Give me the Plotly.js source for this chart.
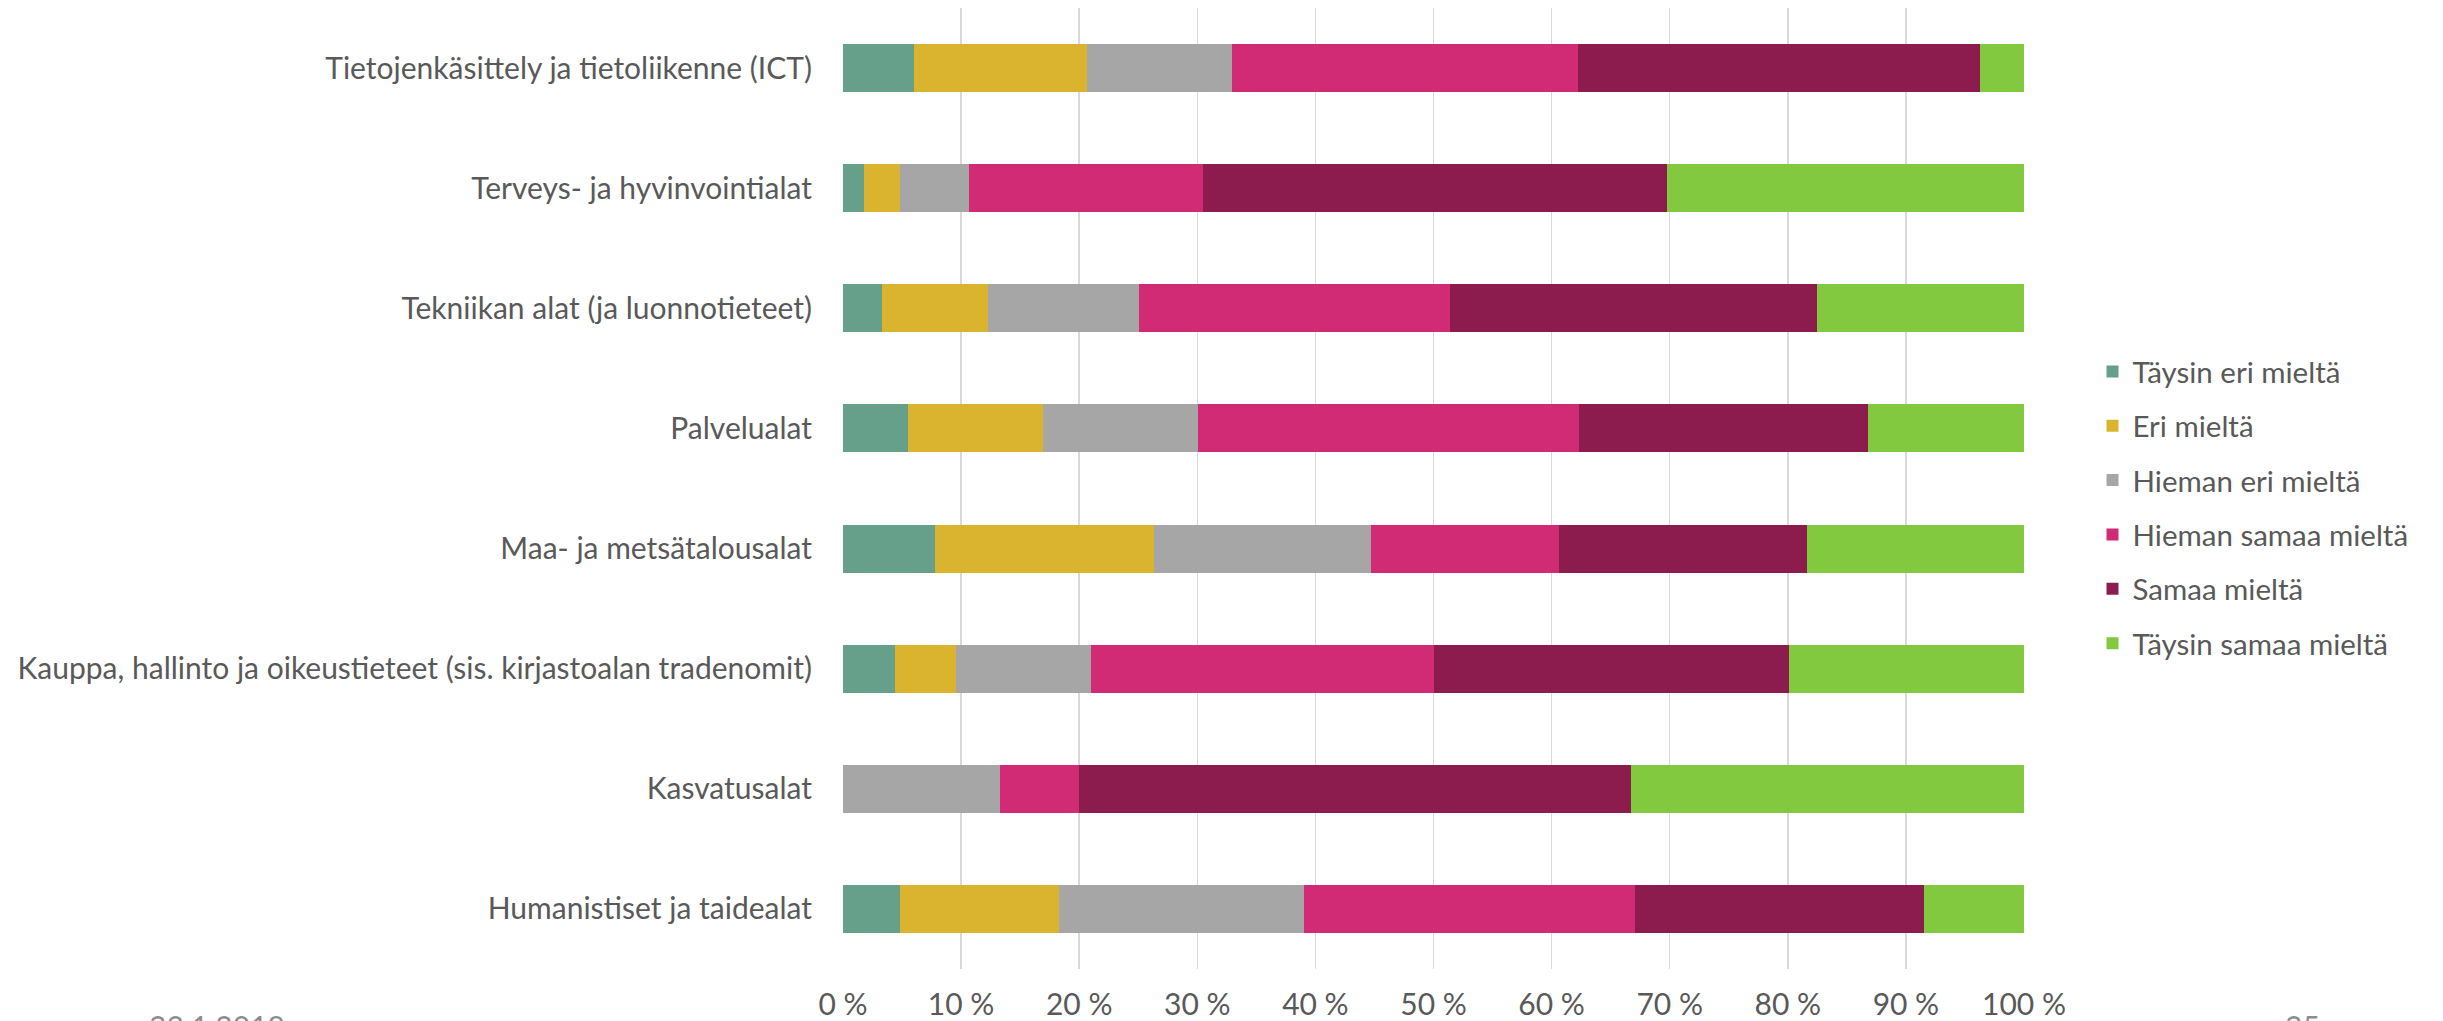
<!DOCTYPE html>
<html>
<head>
<meta charset="utf-8">
<script src="https://cdn.plot.ly/plotly-3.0.1.min.js"></script>
<style>
  html, body { margin: 0; padding: 0; background: #fff; }
  #plot { width: 2443px; height: 1021px; }
</style>
</head>
<body>
<div id="plot"></div>
<script>
// alat ylhäältä alas
const alat = [
  'Tietojenkäsittely ja tietoliikenne (ICT)',
  'Terveys- ja hyvinvointialat',
  'Tekniikan alat (ja luonnotieteet)',
  'Palvelualat',
  'Maa- ja metsätalousalat',
  'Kauppa, hallinto ja oikeustieteet (sis. kirjastoalan tradenomit)',
  'Kasvatusalat',
  'Humanistiset ja taidealat'
];

// osuudet prosentteina, samassa järjestyksessä kuin alat
const taysinEri   = [6.0, 1.8, 3.3, 5.5, 7.8, 4.4, 0.0, 4.8];
const eri         = [14.7, 3.0, 9.0, 11.4, 18.5, 5.2, 0.0, 13.5];
const hiemanEri   = [12.2, 5.9, 12.8, 13.2, 18.4, 11.4, 13.3, 20.7];
const hiemanSamaa = [29.3, 19.8, 26.3, 32.2, 15.9, 29.0, 6.7, 28.1];
const samaa       = [34.1, 39.3, 31.1, 24.5, 21.0, 30.1, 46.7, 24.4];
const taysinSamaa = [3.7, 30.2, 17.5, 13.2, 18.4, 19.9, 33.3, 8.5];

const sarjat = ['Täysin eri mieltä', 'Eri mieltä', 'Hieman eri mieltä',
                'Hieman samaa mieltä', 'Samaa mieltä', 'Täysin samaa mieltä'];
const varit = ['#66A08A', '#DAB42E', '#A6A6A6', '#D02B74', '#8B1C4D', '#82C940'];

const xTicks = [0, 10, 20, 30, 40, 50, 60, 70, 80, 90, 100];
const xTickText = xTicks.map(function (v) { return v + ' %'; });

// dian alatunniste (leikkautuu kuvan alareunaan)
const paivays = '23.1.2018';
const sivu = '25';

const fontti = 'Lato, "Open Sans", sans-serif';
const tekstiVari = '#595959';

function draw() {
  const arvot = [taysinEri, eri, hiemanEri, hiemanSamaa, samaa, taysinSamaa];
  const data = arvot.map(function (vals, i) {
    return {
      type: 'bar',
      orientation: 'h',
      name: sarjat[i],
      legendgroup: 'g' + i,
      x: vals,
      y: alat,
      marker: { color: varit[i], line: { width: 0 } },
      hoverinfo: 'name+x'
    };
  });

  const layout = {
    width: 2443,
    height: 1021,
    margin: { l: 843, r: 419, t: 8, b: 52 },
    paper_bgcolor: '#fff',
    plot_bgcolor: '#fff',
    barmode: 'stack',
    bargap: 0.6,
    font: { family: fontti, size: 30, color: tekstiVari },
    xaxis: {
      range: [0, 100],
      tickvals: xTicks,
      ticktext: xTickText,
      showgrid: true,
      gridcolor: '#D9D9D9',
      gridwidth: 1.5,
      zeroline: false,
      showline: false,
      ticks: '',
      ticklabelstandoff: 15,
      tickfont: { family: fontti, size: 30, color: tekstiVari },
      fixedrange: true
    },
    yaxis: {
      type: 'category',
      autorange: 'reversed',
      showgrid: false,
      zeroline: false,
      showline: false,
      ticks: '',
      ticklabelstandoff: 30,
      tickfont: { family: fontti, size: 30, color: tekstiVari },
      fixedrange: true
    },
    legend: {
      x: 1.058,
      xanchor: 'left',
      y: 0.48,
      yanchor: 'middle',
      traceorder: 'grouped',
      tracegroupgap: 13,
      font: { family: fontti, size: 29.5, color: tekstiVari }
    },
    annotations: [
      { text: paivays, xref: 'paper', yref: 'paper', x: -0.589, y: -0.038,
        xanchor: 'left', yanchor: 'top', showarrow: false,
        font: { family: fontti, size: 30, color: '#8C8C8C' } },
      { text: sivu, xref: 'paper', yref: 'paper', x: 1.219, y: -0.038,
        xanchor: 'left', yanchor: 'top', showarrow: false,
        font: { family: fontti, size: 30, color: '#8C8C8C' } }
    ]
  };

  Plotly.newPlot('plot', data, layout, { displayModeBar: false, staticPlot: true });
}

draw();
</script>
</body>
</html>
